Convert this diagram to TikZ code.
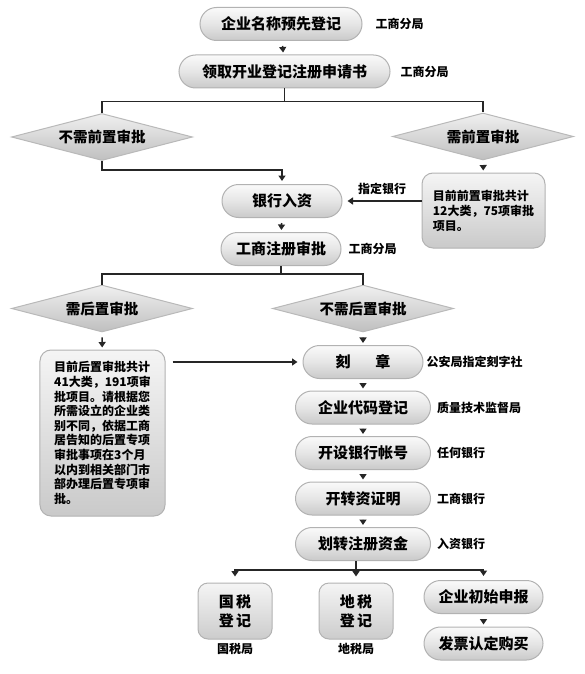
\documentclass[tikz,border=0pt]{standalone}
\usepackage{fontspec}
\setmainfont{Noto Sans CJK SC}
\usepackage{tikz}
\usetikzlibrary{arrows.meta, positioning, shapes.geometric, shapes.misc}
\tikzset{
  >={Triangle[length=5.5bp,width=7bp]}, % small solid heads
  link/.style={line width=1.5bp, draw=black!85},
  go/.style={link, ->, shorten <=5bp, shorten >=2bp},
  pill/.style={rounded rectangle, draw=gray!60, line width=1bp,
    top color=gray!4, bottom color=gray!42, middle color=gray!20,
    minimum height=33bp, inner sep=0pt,
    font=\fontsize{15bp}{16bp}\selectfont\bfseries},
  choice/.style={diamond, draw=gray!55, line width=1bp,
    top color=gray!12, bottom color=gray!50,
    minimum width=181bp, minimum height=47bp, inner sep=0pt, aspect=3.8,
    font=\fontsize{14.5bp}{16bp}\selectfont\bfseries},
  note/.style={rectangle, rounded corners=11bp, draw=gray!60, line width=1bp,
    top color=gray!8, bottom color=gray!42, inner sep=0pt,
    align=left, font=\fontsize{12bp}{15bp}\selectfont\bfseries},
  taxbox/.style={rectangle, rounded corners=10bp, draw=gray!60, line width=1bp,
    top color=gray!8, bottom color=gray!40,
    minimum width=74bp, minimum height=56bp, inner sep=0pt, align=center,
    font=\fontsize{15bp}{19bp}\selectfont\bfseries},
  side/.style={inner sep=0pt, font=\fontsize{12bp}{14bp}\selectfont\bfseries},
}
\begin{document}
\begin{tikzpicture}[x=1bp, y=-1bp, node distance=45.5bp]
  \useasboundingbox (0,0) rectangle (585,674);

  % top column
  \node[pill, minimum width=162bp] (name) at (281,24) {企业名称预先登记};
  \node[pill, minimum width=211bp] (apply) at (284.5,71.5) {领取开业登记注册申请书};
  \node[choice] (nopre) at (102,137) {不需前置审批};
  \node[choice] (pre) at (483,136.5) {需前置审批};
  \node[pill, minimum width=120bp] (bank) at (282,201) {银行入资};
  \node[note, minimum width=123bp, minimum height=75bp] (prenote) at (483.5,210.5)
    {目前前置审批共计\\12大类，75项审批\\项目。};
  \node[pill, minimum width=120bp] (icreg) at (281,249) {工商注册审批};

  % after registration
  \node[choice] (post) at (102,308.5) {需后置审批};
  \node[choice] (nopost) at (363,308.5) {不需后置审批};
  \node[note, minimum width=125bp, minimum height=166bp,
    font=\fontsize{12bp}{14.6bp}\selectfont\bfseries] (postnote) at (102.5,433)
    {目前后置审批共计\\41大类，191项审\\批项目。请根据您\\所需设立的企业类\\别不同，依据工商\\居告知的后置专项\\审批事项在3个月\\以内到相关部门市\\部办理后置专项审\\批。};
  \node[pill, minimum width=120bp] (seal) at (363,362) {刻\hspace{25bp}章};
  \node[pill, minimum width=135bp, below of=seal] (code) {企业代码登记};
  \node[pill, minimum width=135bp, below of=code] (acct) {开设银行帐号};
  \node[pill, minimum width=135bp, below of=acct] (proof) {开转资证明};
  \node[pill, minimum width=135bp, below of=proof] (transfer) {划转注册资金};

  % last row
  \node[taxbox] (guo) at (235,611) {国\,税\\登\,记};
  \node[taxbox] (di) at (356,611) {地\,税\\登\,记};
  \node[pill, minimum width=119bp] (init) at (483.5,597) {企业初始申报};
  \node[pill, minimum width=119bp, below of=init, node distance=46.5bp] (invoice) {发票认定购买};

  % side notes
  \node[side, right=13bp of name] (namelbl) {工商分局};
  \node[side, right=10bp of apply] (applylbl) {工商分局};
  \node[side, right=7bp of icreg] (icreglbl) {工商分局};
  \node[side, right=3bp of seal] (seallbl) {公安局指定刻字社};
  \node[side, right=6bp of code] (codelbl) {质量技术监督局};
  \node[side, right=6bp of acct] (acctlbl) {任何银行};
  \node[side, right=6bp of proof] (prooflbl) {工商银行};
  \node[side, right=6bp of transfer] (transferlbl) {入资银行};
  \node[side, below=4bp of guo] (guolbl) {国税局};
  \node[side, below=4bp of di] (dilbl) {地税局};

  % connectors
  \draw[go] (name) -- (apply);
  \draw[link] (apply.south) -- ++(0,13) coordinate (split1) -| (nopre.north);
  \draw[link] (split1) -| (pre.north);
  \draw[link, ->, shorten >=3bp] (nopre.south) -- ++(0,9) -| (bank.north);
  \draw[go] (pre) -- (prenote);
  \draw[link, ->, shorten >=5bp] (prenote.west |- bank.east) -- (bank.east)
    node[side, midway, above=6bp] (banklbl) {指定银行};
  \draw[go] (bank) -- (icreg);
  \draw[link] (icreg.south) -- ++(0,8) coordinate (split2) -| (post.north);
  \draw[link] (split2) -| (nopost.north);
  \draw[go] (post) -- (postnote);
  \draw[go] (nopost) -- (seal);
  \draw[link, ->, shorten <=7bp, shorten >=5bp] (postnote.east |- seal.west) -- (seal.west);
  \draw[go] (seal) -- (code);
  \draw[go] (code) -- (acct);
  \draw[go] (acct) -- (proof);
  \draw[go] (proof) -- (transfer);
  \draw[link] (di.north |- transfer.south) -- ++(0,9) coordinate (split3);
  \draw[link, ->, shorten >=6bp] (split3) -| (guo.north);
  \draw[link, ->, shorten >=6bp] (split3) -- (di.north);
  \draw[link, ->, shorten >=4bp] (split3) -| (init.north);
  \draw[go] (init) -- (invoice);
\end{tikzpicture}
\end{document}
